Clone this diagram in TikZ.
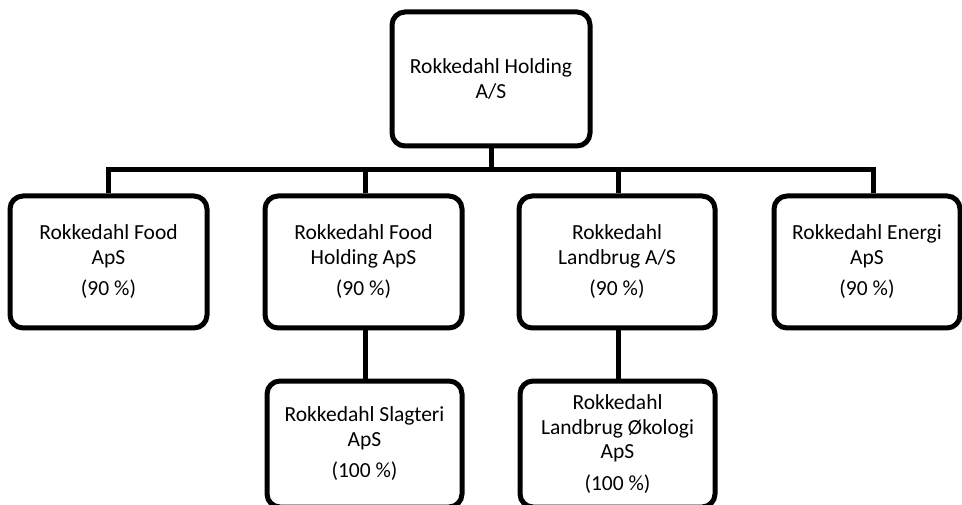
\documentclass[tikz,border=0pt]{standalone}
\usepackage{fontspec}
\setmainfont{Carlito}
\begin{document}
\begin{tikzpicture}[x=1pt,y=-1pt,
  orgbox/.style={draw=black, line width=5pt, rounded corners=13pt, inner sep=0pt,
    align=center, font=\fontsize{21.5}{24.5}\selectfont, text=black},
  link/.style={draw=black, line width=5pt}]
\useasboundingbox (0,0) rectangle (962,505);
\node[orgbox, minimum width=198pt, minimum height=134pt] (top) at (491,79) {Rokkedahl Holding\\A/S};
\node[orgbox, minimum width=197pt, minimum height=132pt] (c1) at (108.5,262) {Rokkedahl Food\\ApS\\[7pt](90 \%)};
\node[orgbox, minimum width=197pt, minimum height=132pt] (c2) at (363.5,262) {Rokkedahl Food\\Holding ApS\\[7pt](90 \%)};
\node[orgbox, minimum width=196pt, minimum height=132pt] (c3) at (617,262) {Rokkedahl\\Landbrug A/S\\[7pt](90 \%)};
\node[orgbox, minimum width=186pt, minimum height=132pt] (c4) at (867,262) {Rokkedahl Energi\\ApS\\[7pt](90 \%)};
\node[orgbox, minimum width=195pt, minimum height=126pt] (b1) at (364.5,444) {Rokkedahl Slagteri\\ApS\\[7pt](100 \%)};
\node[orgbox, minimum width=195pt, minimum height=126pt] (b2) at (617.5,444) {Rokkedahl\\Landbrug Økologi\\ApS\\[7pt](100 \%)};
\coordinate (j) at (491,170);
\draw[link] (top.south) -- (j);
\draw[link] (j) -| (c1.north);
\draw[link] (j) -| ([xshift=1.5pt]c2.north);
\draw[link] (j) -| ([xshift=1pt]c3.north);
\draw[link] (j) -| ([xshift=6pt]c4.north);
\draw[link] ([xshift=1.5pt]c2.south) -- ([xshift=0.5pt]b1.north);
\draw[link] ([xshift=1pt]c3.south) -- ([xshift=0.5pt]b2.north);
\end{tikzpicture}
\end{document}
